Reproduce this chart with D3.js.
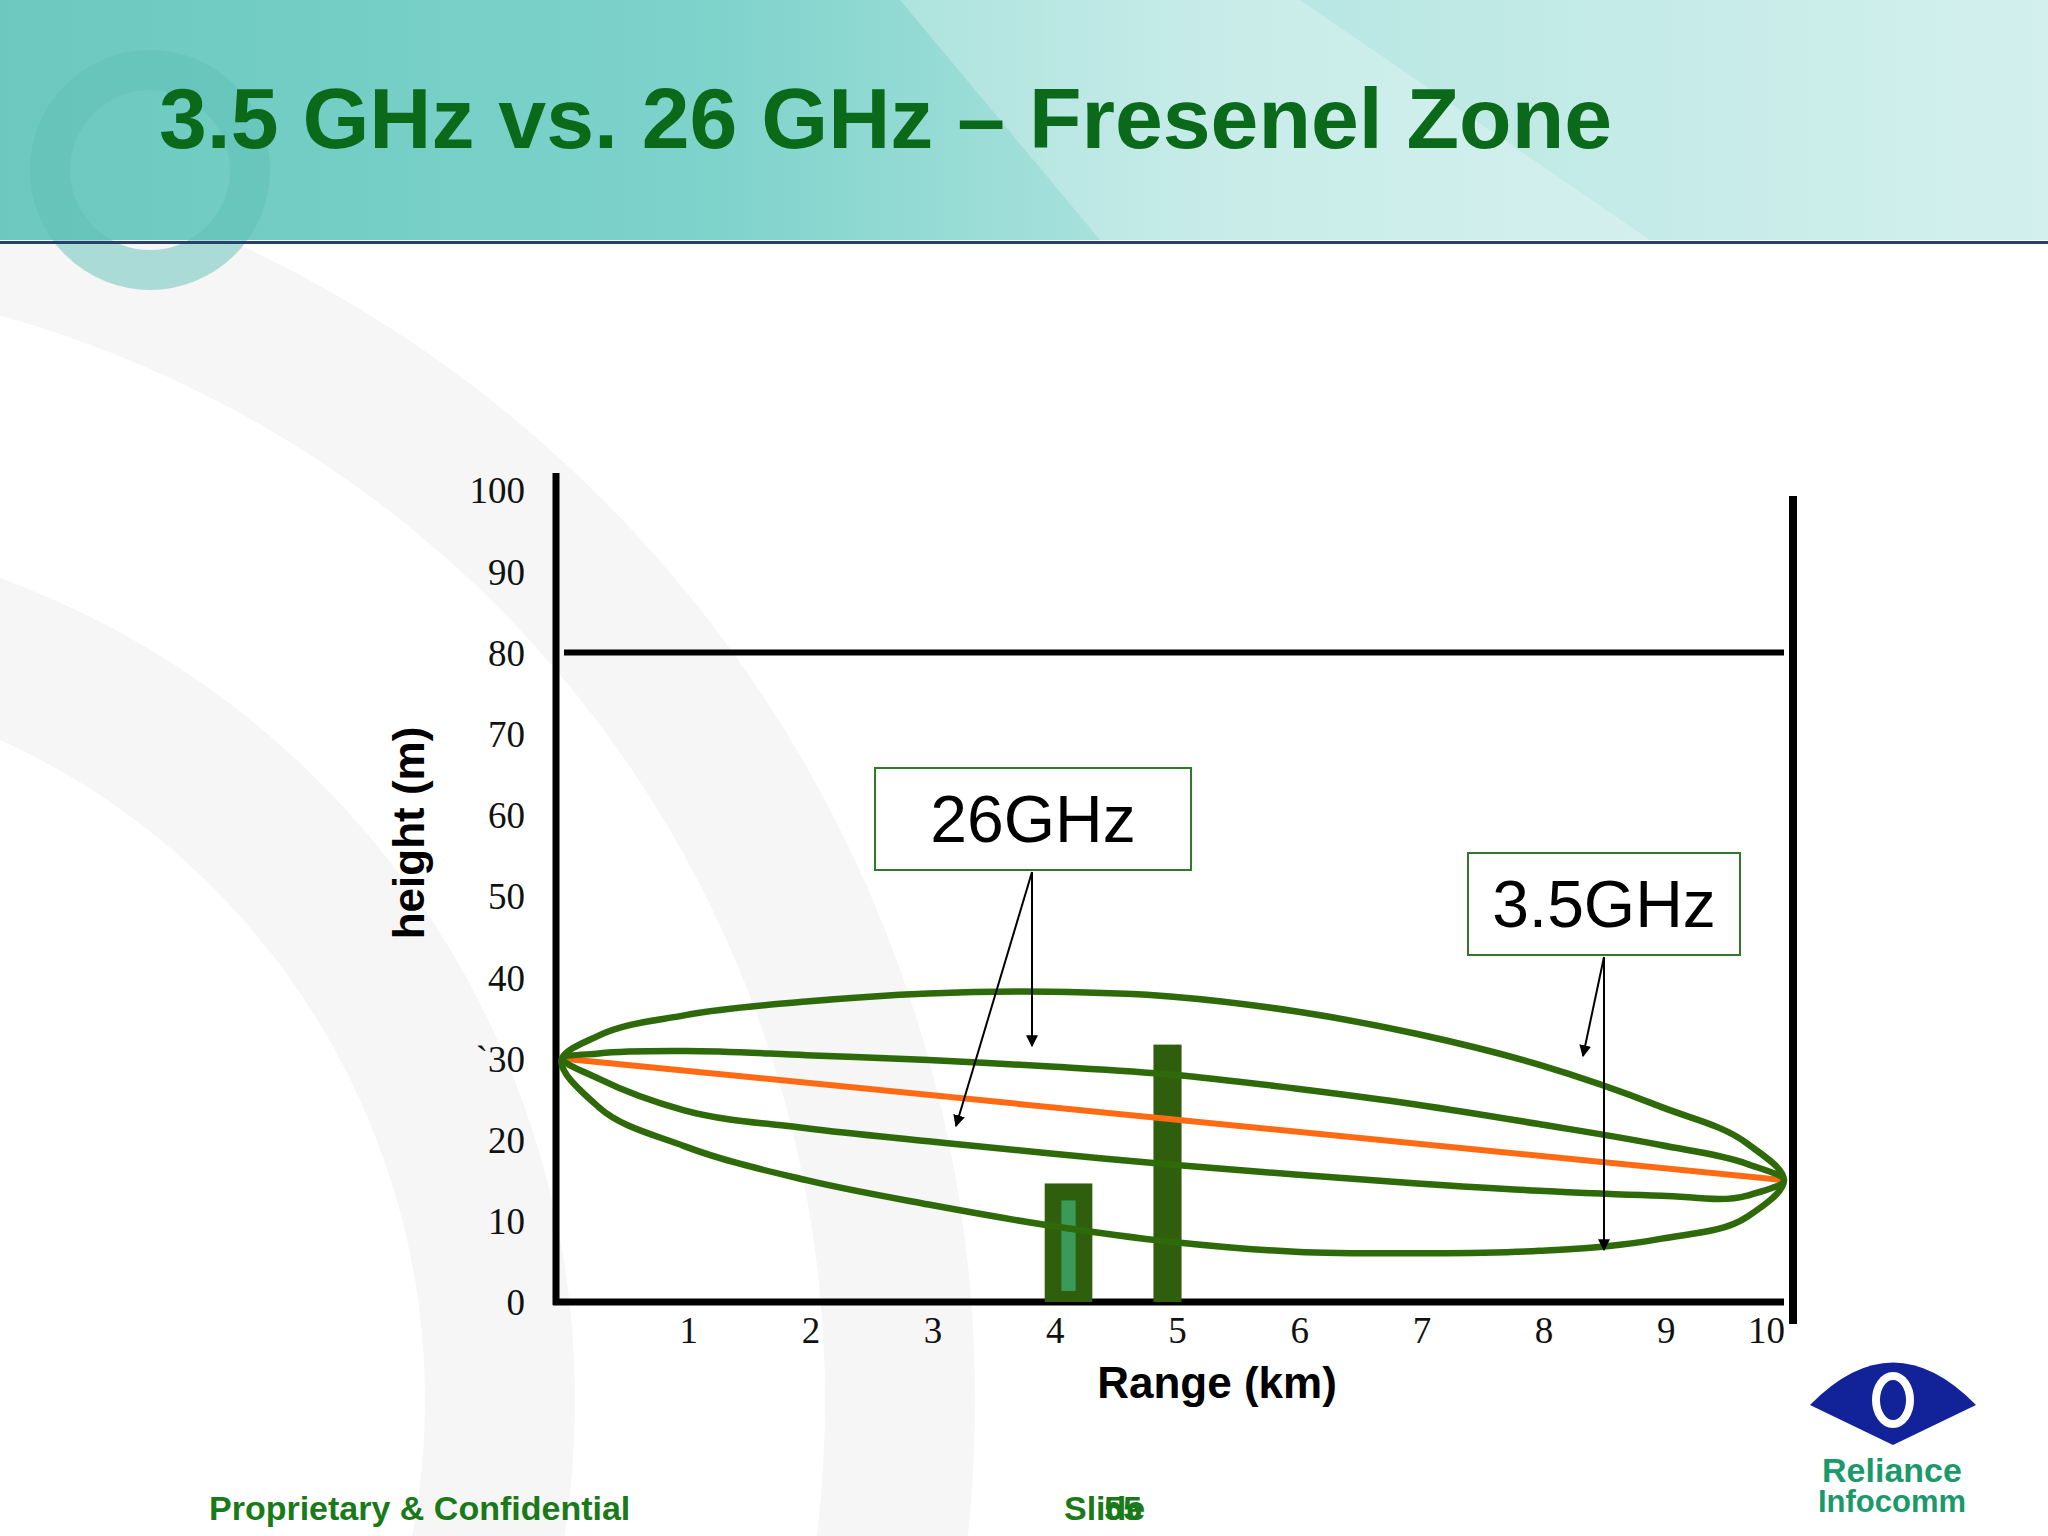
<!DOCTYPE html>
<html><head><meta charset="utf-8">
<script src="https://cdn.jsdelivr.net/npm/d3@7"></script>
<style>body{margin:0;background:#fff}</style></head>
<body><svg id="c" width="2048" height="1536"></svg>
<script>
const xTicks=[1,2,3,4,5,6,7,8,9,10];
const yTicks=[0,10,20,30,40,50,60,70,80,90,100];
const yTickLabels=["0","10","20","`30","40","50","60","70","80","90","100"];
const kmPts=[0,0.3,1,2,3,4,5,6,7,8,9,9.7,10];
const z35Upper=[30,32.8,35.3,37,38,38.2,37.6,35.8,33,29.2,24,19.5,15];
const z35Lower=[30,24,19.2,15,12,9.4,7.4,6.2,6,6.3,7.8,10.5,15];
const z26Upper=[30,30.6,30.9,30.4,29.8,29,28,26.3,24.3,21.9,19.3,17,15];
const z26Lower=[30,27.5,23.6,21.4,19.8,18.3,16.9,15.7,14.6,13.7,13.1,13.1,15];
const losLine=[[0,30],[10,15]];
const ceiling=80;
const obstacles=[{x0:3.95,x1:4.34,h:14.6,inner:true},{x0:4.84,x1:5.07,h:31.7,inner:false}];

const svg=d3.select("#c");
const defs=svg.append("defs");
const g1=defs.append("linearGradient").attr("id","hdr").attr("x1",0).attr("x2",1);
[["0%","#6cc9c0"],["35%","#7ed3cb"],["60%","#b6e6e2"],["100%","#d3f0ee"]].forEach(s=>g1.append("stop").attr("offset",s[0]).attr("stop-color",s[1]));
// faint background arcs
[[-300,1400,1200],[-300,1400,800]].forEach(a=>svg.append("circle").attr("cx",a[0]).attr("cy",a[1]).attr("r",a[2]).attr("fill","none").attr("stroke","#f6f6f6").attr("stroke-width",150));
svg.append("rect").attr("width",2048).attr("height",240).attr("fill","url(#hdr)");
svg.append("path").attr("d","M900,0 L1300,0 L1650,240 L1100,240Z").attr("fill","#fff").attr("opacity",0.25);
svg.append("circle").attr("cx",150).attr("cy",170).attr("r",100).attr("fill","none").attr("stroke","#5fbfb5").attr("stroke-width",40).attr("opacity",0.5);
svg.append("rect").attr("y",241).attr("width",2048).attr("height",3).attr("fill","#2c3e6b");

svg.append("text").attr("x",159).attr("y",148).text("3.5 GHz vs. 26 GHz – Fresenel Zone")
 .attr("font-family","Liberation Sans, Arial").attr("font-weight","bold").attr("font-size",86).attr("fill","#0b6a1a");

const x=d3.scaleLinear().domain([0,10]).range([562,1784]);
const y=d3.scaleLinear().domain([0,100]).range([1302,490]);

const ya=svg.append("g").attr("transform","translate(528,0)").call(d3.axisLeft(y).tickValues(yTicks).tickSize(0).tickFormat((d,i)=>yTickLabels[i]));
ya.select(".domain").remove();
ya.selectAll("text").attr("font-family","Liberation Serif, Times New Roman").attr("font-size",37).attr("fill","#111").attr("dy","0.35em");
const xa=svg.append("g").attr("transform","translate(0,1312)").call(d3.axisBottom(x).tickValues(xTicks).tickSize(0));
xa.select(".domain").remove();
xa.selectAll("text").attr("font-family","Liberation Serif, Times New Roman").attr("font-size",37).attr("fill","#111").attr("dy","0.75em").attr("dx",d=>d===10?-18:4);

svg.append("line").attr("x1",556).attr("x2",556).attr("y1",473).attr("y2",1305).attr("stroke","#000").attr("stroke-width",7);
svg.append("line").attr("x1",553).attr("x2",x(10)).attr("y1",y(0)).attr("y2",y(0)).attr("stroke","#000").attr("stroke-width",7);
svg.append("line").attr("x1",1793).attr("x2",1793).attr("y1",496).attr("y2",1324).attr("stroke","#000").attr("stroke-width",8);
svg.append("line").attr("x1",x(0)+2).attr("x2",x(10)).attr("y1",y(ceiling)).attr("y2",y(ceiling)).attr("stroke","#000").attr("stroke-width",6);

obstacles.forEach(o=>{
 svg.append("rect").attr("x",x(o.x0)).attr("width",x(o.x1)-x(o.x0)).attr("y",y(o.h)).attr("height",y(0)-y(o.h)).attr("fill","#2f5e0c");
 if(o.inner) svg.append("rect").attr("x",x(o.x0)+(x(o.x1)-x(o.x0))*0.35).attr("width",(x(o.x1)-x(o.x0))*0.3).attr("y",y(o.h)+17).attr("height",y(0)-y(o.h)-28).attr("fill","#3a9a5a");
});

const line=d3.line().x(d=>x(d[0])).y(d=>y(d[1]));
function zone(up,lo){
 const pts=kmPts.map((k,i)=>[k,up[i]]).concat(kmPts.slice(1,-1).map((k,i)=>[k,lo[i+1]]).reverse());
 svg.append("path").attr("d",d3.line().x(d=>x(d[0])).y(d=>y(d[1])).curve(d3.curveCatmullRomClosed.alpha(1))(pts))
  .attr("fill","none").attr("stroke","#2f6a0a").attr("stroke-width",6.5);
}
svg.append("path").attr("d",line(losLine)).attr("stroke","#ff6a13").attr("stroke-width",6).attr("fill","none");
zone(z35Upper,z35Lower);
zone(z26Upper,z26Lower);

defs.append("marker").attr("id","ar").attr("viewBox","0 0 10 10").attr("refX",9).attr("refY",5).attr("markerWidth",6).attr("markerHeight",6).attr("orient","auto")
 .append("path").attr("d","M0,0L10,5L0,10Z").attr("fill","#000");
function box(x0,y0,w,h,t){
 svg.append("rect").attr("x",x0).attr("y",y0).attr("width",w).attr("height",h).attr("fill","#fff").attr("stroke","#2f7a2a").attr("stroke-width",2);
 svg.append("text").attr("x",x0+w/2).attr("y",y0+h/2+23).attr("text-anchor","middle").text(t).attr("font-family","Liberation Sans, Arial").attr("font-size",66).attr("fill","#000");
}
box(875,768,316,102,"26GHz");
box(1468,853,272,102,"3.5GHz");
[[1032,872,1032,1046],[1032,872,956,1126],[1604,957,1583,1056],[1604,957,1604,1250]].forEach(a=>
 svg.append("line").attr("x1",a[0]).attr("y1",a[1]).attr("x2",a[2]).attr("y2",a[3]).attr("stroke","#000").attr("stroke-width",2).attr("marker-end","url(#ar)"));

svg.append("text").attr("transform","translate(424,833) rotate(-90)").attr("text-anchor","middle").text("height (m)")
 .attr("font-family","Liberation Sans, Arial").attr("font-weight","bold").attr("font-size",44);
svg.append("text").attr("x",1217).attr("y",1398).attr("text-anchor","middle").text("Range (km)")
 .attr("font-family","Liberation Sans, Arial").attr("font-weight","bold").attr("font-size",44);

svg.append("text").attr("x",209).attr("y",1520).text("Proprietary & Confidential").attr("font-family","Liberation Sans, Arial").attr("font-weight","bold").attr("font-size",34).attr("fill","#1a7a1a");
svg.append("text").attr("x",1064).attr("y",1520).text("Slide").attr("font-family","Liberation Sans, Arial").attr("font-weight","bold").attr("font-size",34).attr("fill","#1a7a1a");
svg.append("text").attr("x",1104).attr("y",1520).text("55").attr("font-family","Liberation Sans, Arial").attr("font-weight","bold").attr("font-size",34).attr("fill","#1a7a1a");
svg.append("path").attr("d","M1810,1405 Q1893,1320 1976,1405 L1893,1445Z").attr("fill","#12239a");
svg.append("ellipse").attr("cx",1893).attr("cy",1400).attr("rx",17).attr("ry",24).attr("fill","none").attr("stroke","#fff").attr("stroke-width",8);
svg.append("text").attr("x",1892).attr("y",1482).attr("text-anchor","middle").text("Reliance").attr("font-family","Liberation Sans, Arial").attr("font-weight","bold").attr("font-size",34).attr("fill","#1a9a6a");
svg.append("text").attr("x",1892).attr("y",1512).attr("text-anchor","middle").text("Infocomm").attr("font-family","Liberation Sans, Arial").attr("font-weight","bold").attr("font-size",31).attr("fill","#1a9a6a");
</script></body></html>
